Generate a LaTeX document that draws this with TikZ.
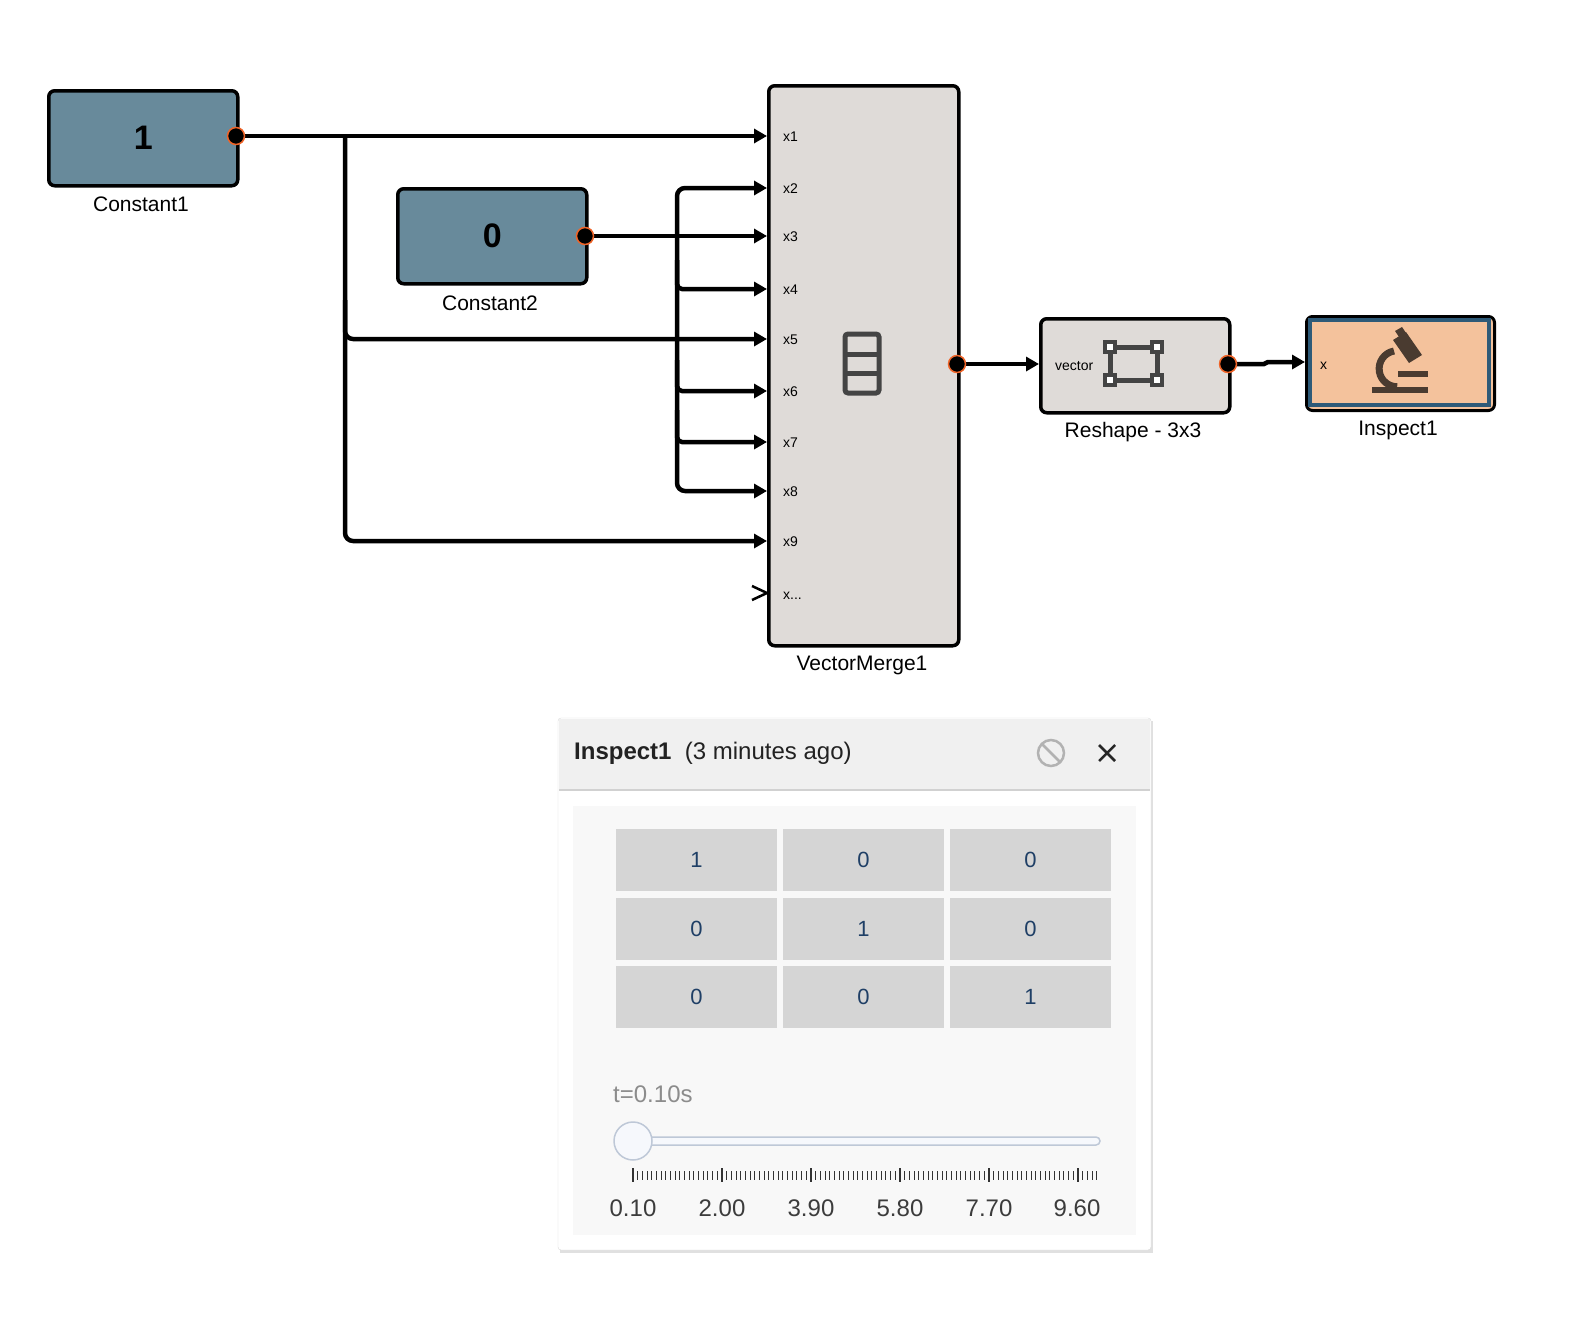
\documentclass[tikz,border=0pt]{standalone}
\usepackage{fontspec}
\setmainfont{Liberation Sans}
\usetikzlibrary{arrows.meta}
\definecolor{cblue}{HTML}{688A9B}
\definecolor{vmgray}{HTML}{DFDBD8}
\definecolor{insp}{HTML}{F4C29C}
\definecolor{inspb}{HTML}{2E5A78}
\definecolor{icon}{HTML}{444444}
\definecolor{micro}{HTML}{4A3B30}
\definecolor{navy}{HTML}{1F3F66}
\definecolor{cellg}{HTML}{D5D5D5}
\definecolor{portr}{RGB}{240,100,40}
\definecolor{hdr}{RGB}{240,240,240}
\definecolor{body}{RGB}{248,248,248}
\definecolor{ttl}{RGB}{34,34,34}
\definecolor{sld}{RGB}{190,200,215}
\definecolor{sldf}{RGB}{246,248,252}
\definecolor{tkc}{RGB}{60,60,60}
\begin{document}
\begin{tikzpicture}[x=1pt,y=-1pt,
 blk/.style={draw=black,line width=3.5,rounded corners=6},
 port/.style={circle,fill=black,draw=portr,line width=1.5,minimum size=17,inner sep=0},
 wire/.style={line width=4.5,rounded corners=8,-{Triangle[length=13,width=14]}},
 lab/.style={font=\fontsize{21}{21}\selectfont,anchor=center},
 pl/.style={font=\fontsize{14}{14}\selectfont,anchor=west,inner sep=0},
 cell/.style={fill=cellg,draw=none,minimum width=161,minimum height=62,inner sep=0,text=navy,font=\fontsize{22}{22}\selectfont},
 tickl/.style={font=\fontsize{24}{24}\selectfont,text=tkc}]
\useasboundingbox (0,0) rectangle (1574,1330);
% blocks
\node[blk,fill=cblue,minimum width=189,minimum height=95,anchor=north west,font=\fontsize{34}{34}\selectfont\bfseries] (c1) at (47,89) {1};
\node[lab] (c1l) at (141,204) {Constant1};
\node[blk,fill=cblue,minimum width=189,minimum height=95,anchor=north west,font=\fontsize{34}{34}\selectfont\bfseries] (c2) at (396,187) {0};
\node[lab] (c2l) at (490,303) {Constant2};
\node[blk,fill=vmgray,minimum width=190,minimum height=560,anchor=north west] (vm) at (767,84) {};
\node[lab] (vml) at (862,665) {VectorMerge1};
\node[blk,fill=vmgray,minimum width=189,minimum height=94,anchor=north west] (rs) at (1039,317) {};
\node[lab] (rsl) at (1133,432) {Reshape - 3x3};
\node[blk,fill=insp,draw=black,line width=3,minimum width=188,minimum height=94,anchor=north west] (in) at (1305,315) {};
\draw[inspb,line width=4] (1309.5,319.5) rectangle (1488.5,404.5);
\node[lab] (inl) at (1398,430) {Inspect1};
% port labels
\foreach \n/\y in {1/136,2/188,3/236,4/289,5/339,6/391,7/442,8/491,9/541}{
 \node[pl] (p\n) at (783,\y+1) {x\n};
 \coordinate (in\n) at (767,\y);}
\node[pl] (pd) at (783,596) {x...};
\draw[line width=2.5] (752,586) -- (767,593) -- (752,600);
\node[pl] (rsv) at (1055,366) {vector};
\node[pl] (inx) at (1320,366) {x};
% icons
\draw[icon,line width=5,rounded corners=3] (845,334) rectangle (879,393);
\draw[icon,line width=5] (845,354) -- (879,354) (845,373) -- (879,373);
\draw[icon,line width=5] (1110,347) -- (1157,347) -- (1157,380) -- (1110,380) -- cycle;
\foreach \cx/\cy in {1110/347,1157/347,1110/380,1157/380}{
 \fill[icon] (\cx-7,\cy-7) rectangle (\cx+7,\cy+7);
 \fill[white] (\cx-3,\cy-3) rectangle (\cx+3,\cy+3);}
\fill[micro] (1372,387) rectangle (1428,393);
\draw[micro,line width=7] (1394,351) arc[start angle=-100,end angle=-270,radius=18];
\draw[micro,line width=6] (1398,374) -- (1428,374);
\fill[micro] (1393,340) -- (1406,332) -- (1422,355) -- (1409,363) -- cycle;
\fill[micro] (1395,331) -- (1402,327) -- (1406,333) -- (1399,337) -- cycle;
% wires
\draw[wire] (c1.east |- in1) -- (in1);
\draw[wire] (345,136) -- (345,339) -- (in5);
\draw[wire] (345,300) -- (345,541) -- (in9);
\draw[wire] (585,236) -- (in3);
\draw[wire] (677,236) -- (677,188) -- (in2);
\draw[wire] (677,236) -- (677,491) -- (in8);
\foreach \n/\y in {4/260,6/360,7/410}{\draw[wire,rounded corners=5] (677,\y) |- (in\n);}
\draw[wire] (957,364) -- (rs.west |- 0,364);
\draw[wire,rounded corners=0] (1228,364) -- (1264,364) -- (1268,362) -- (in.west |- 0,362);
\node[port] (c1p) at (236,136) {};
\node[port] (c2p) at (585,236) {};
\node[port] (vmp) at (957,364) {};
\node[port] (rsp) at (1228,364) {};
% panel
\fill[black!12] (560,721) rectangle (1153,1253);
\draw[black!15,fill=white,rounded corners=3] (558,718) rectangle (1151,1250);
\fill[hdr] (559,719) rectangle (1150,790);
\draw[black!18,line width=1.5] (559,790) -- (1150,790);
\fill[body] (573,806) rectangle (1136,1235);
\node[anchor=west,inner sep=0,font=\fontsize{24}{24}\selectfont,text=ttl] (title) at (574,753) {\textbf{Inspect1}\ \ (3 minutes ago)};
\draw[black!30,line width=2.5] (1051,753) circle (13);
\draw[black!30,line width=2.5] (1042,744) -- (1060,762);
\draw[black!85,line width=2.5] (1099,745) -- (1115,761) (1115,745) -- (1099,761);
\foreach \r/\y in {1/859.5,2/928.5,3/996.5}{
 \foreach \c/\x in {1/696.5,2/863.5,3/1030.5}{
  \pgfmathtruncatemacro\v{\r==\c?1:0}
  \node[cell] (m\r\c) at (\x,\y) {\v};}}
\node[anchor=west,inner sep=0,font=\fontsize{24}{24}\selectfont,text=black!45] (tl) at (613,1094) {t=0.10s};
\draw[sld,fill=sldf,line width=1.5,rounded corners=4] (633,1137) rectangle (1100,1145);
\node[circle,draw=sld,fill=sldf,line width=1.5,minimum size=38] (knob) at (633,1141) {};
\foreach \i in {0,...,99}{
 \pgfmathsetmacro\xx{633+\i*4.684}
 \pgfmathtruncatemacro\m{mod(\i,19)}
 \ifnum\m=0 \draw[black!80,line width=1.3] (\xx,1168) -- (\xx,1182);
 \else \draw[black!80,line width=1] (\xx,1171) -- (\xx,1180); \fi}
\foreach \t/\x in {0.10/633,2.00/722,3.90/811,5.80/900,7.70/989,9.60/1077}
 \node[tickl] (tk\x) at (\x,1208) {\t};
\end{tikzpicture}
\end{document}
